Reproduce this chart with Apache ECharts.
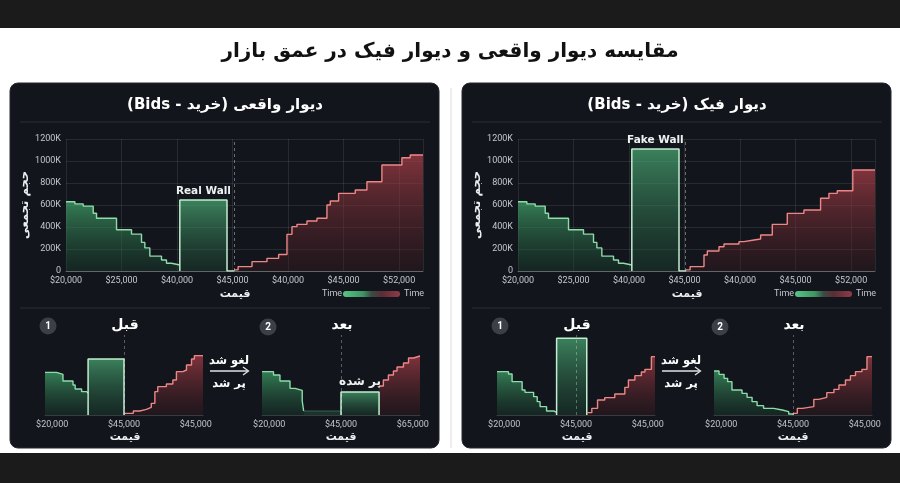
<!DOCTYPE html>
<html><head><meta charset="utf-8">
<script src="https://cdn.jsdelivr.net/npm/echarts@6/dist/echarts.min.js"></script>
<style>html,body{margin:0;padding:0;background:#fff}#c{width:900px;height:483px}</style>
</head><body><div id="c" dir="rtl"></div>
<script>
// ---------- data ----------
const mainTitle = 'مقایسه دیوار واقعی و دیوار فیک در عمق بازار';
const panelTitles = ['دیوار واقعی (خرید - Bids)', 'دیوار فیک (خرید - Bids)'];
const wallLabels = ['Real Wall', 'Fake Wall'];
const topXLabels = ['$20,000','$25,000','$40,000','$45,000','$40,000','$45,000','$52,000'];
const yAxisName = 'حجم تجمعی';
const xAxisName = 'قیمت';

const realBids = [[0,630],[0.16,610],[0.31,590],[0.49,525],[0.55,480],[0.91,375],[1.18,335],[1.36,260],[1.42,210],[1.51,135],[1.72,100],[1.81,70],[1.90,55],[2.05,55]];
const realWall = [[2.05,0],[2.05,645],[2.90,645],[2.90,0],[3.03,0]];
const realAsks = [[3.03,10],[3.10,40],[3.35,85],[3.62,115],[3.83,150],[3.98,333],[4.07,403],[4.16,424],[4.34,455],[4.52,479],[4.70,600],[4.76,636],[4.91,706],[5.21,736],[5.42,812],[5.69,964],[6.05,1030],[6.20,1055],[6.43,1055]];
const fakeBids = [[0,630],[0.16,610],[0.31,590],[0.49,525],[0.55,480],[0.91,375],[1.18,335],[1.36,260],[1.42,210],[1.51,135],[1.72,100],[1.81,70],[1.90,55],[2.05,55]];
const fakeWall = [[2.05,0],[2.05,1110],[2.90,1110],[2.90,0],[3.03,0]];
const fakeAsks = [[3.02,10],[3.10,40],[3.35,145],[3.41,182],[3.62,221],[3.71,245],[3.98,267],[4.07,282],[4.25,291],[4.37,327],[4.58,424],[4.85,524],[5.15,555],[5.45,661],[5.60,706],[5.75,730],[6.03,918],[6.43,918]];
const midPrice = [3.03, 3.02];

const miniLabelPos = [0.1, 1.1, 2.1];
const miniLabels = [
  ['$20,000','$45,000','$45,000'],
  ['$20,000','$45,000','$65,000'],
  ['$20,000','$45,000','$45,000'],
  ['$20,000','$45,000','$45,000']
];
const miniMid = [1.10, 1.10, 1.11, 1.10];
const realBeforeBids = [[0,640],[0.16,610],[0.25,510],[0.39,450],[0.42,390],[0.51,350],[0.58,325],[0.60,325]];
const realBeforeWall = [[0.60,0],[0.60,840],[1.10,840],[1.10,0]];
const realBeforeAsks = [[1.11,25],[1.23,60],[1.32,85],[1.41,115],[1.48,175],[1.53,350],[1.57,425],[1.69,465],[1.78,525],[1.83,650],[1.92,675],[1.97,750],[2.04,840],[2.08,890],[2.20,890]];
const realAfterBids = [[0,650],[0.16,600],[0.25,510],[0.39,400],[0.46,370],[0.56,210],[0.58,60]];
const realAfterRemnant = [[0.58,60],[1.10,60]];
const realAfterFilled = [[1.10,0],[1.10,345],[1.63,345],[1.63,0]];
const realAfterAsks = [[1.63,435],[1.69,525],[1.76,600],[1.83,660],[1.88,720],[1.97,780],[2.04,855],[2.11,885],[2.20,885]];
const fakeBeforeBids = [[0,650],[0.16,615],[0.21,500],[0.35,375],[0.39,340],[0.51,275],[0.56,200],[0.60,125],[0.69,60],[0.79,40],[0.83,40]];
const fakeBeforeWall = [[0.83,0],[0.83,1150],[1.25,1150],[1.25,0]];
const fakeBeforeAsks = [[1.25,35],[1.32,100],[1.40,225],[1.50,260],[1.64,315],[1.78,415],[1.83,525],[1.92,590],[2.01,645],[2.06,685],[2.15,875],[2.20,875]];
const fakeAfterBids = [[0,660],[0.07,610],[0.14,550],[0.19,500],[0.25,375],[0.39,325],[0.46,265],[0.53,200],[0.60,140],[0.69,100],[0.83,75],[0.95,50],[1.04,15],[1.10,0]];
const fakeAfterAsks = [[1.10,25],[1.16,100],[1.23,125],[1.39,235],[1.46,265],[1.57,335],[1.67,385],[1.74,450],[1.83,525],[1.90,590],[1.97,650],[2.06,685],[2.13,875],[2.20,875]];
const filledLabel = 'پر شده';
const beforeAfter = ['قبل', 'بعد'];
const arrowTexts = ['لغو شد', 'پر شد'];
const legendText = 'Time';

// ---------- chart ----------
const FONT = 'Roboto, "DejaVu Sans", sans-serif';
const PFONT = '"DejaVu Sans", sans-serif';
const chart = echarts.init(document.getElementById('c'), null, {width:900, height:483});
const LG = (a,b)=> new echarts.graphic.LinearGradient(0,0,0,1,[{offset:0,color:a},{offset:1,color:b}]);
const GREEN_LINE = '#8ddcaa', RED_LINE = '#ef8686', WALL_LINE = '#c2eed0';

const grids = [
  {left:66, top:139, width:357, height:132},
  {left:518, top:139, width:357, height:132},
  {left:45, top:335, width:158, height:80},
  {left:262, top:335, width:158, height:80},
  {left:497, top:335, width:158, height:80},
  {left:714, top:335, width:158, height:80}
];
const xAxes = [], yAxes = [];
[0,1].forEach(gi=>{
  xAxes.push({type:'value', gridIndex:gi, min:0, max:6.43, interval:1,
    axisLine:{show:true, lineStyle:{color:'rgba(255,255,255,0.28)'}}, axisTick:{show:false},
    axisLabel:{color:'#c3c7cd', fontSize:9, fontFamily:FONT, margin:5,
      formatter:v=> (Number.isInteger(v) && topXLabels[v]!==undefined) ? topXLabels[v] : ''},
    splitLine:{show:true, lineStyle:{color:'rgba(255,255,255,0.09)'}}});
  yAxes.push({type:'value', gridIndex:gi, min:0, max:1200, interval:200,
    name:yAxisName, nameLocation:'middle', nameRotate:90, nameGap:35,
    nameTextStyle:{color:'#eceef0', fontSize:11.5, fontWeight:'bold', fontFamily:PFONT},
    axisLine:{show:false}, axisTick:{show:false},
    axisLabel:{color:'#c3c7cd', fontSize:9, fontFamily:FONT, margin:5, formatter:v=> v===0?'0':v+'K'},
    splitLine:{lineStyle:{color:'rgba(255,255,255,0.09)'}}});
});
[2,3,4,5].forEach((gi,k)=>{
  xAxes.push({type:'value', gridIndex:gi, min:0, max:2.2,
    axisLine:{show:true, lineStyle:{color:'rgba(255,255,255,0.16)'}}, axisTick:{show:false}, splitLine:{show:false},
    axisLabel:{customValues:miniLabelPos, color:'#bfc3c9', fontSize:9, fontFamily:FONT, margin:5,
      formatter:v=> miniLabels[k][Math.round(v-0.1)]}});
  yAxes.push({type:'value', gridIndex:gi, min:0, max:1200, show:false});
});

function mk(gi, data, kind, extra){
  const s = {type:'line', xAxisIndex:gi, yAxisIndex:gi, data, symbol:'none', animation:false, silent:true};
  if (kind==='bid') { s.step='end'; s.lineStyle={color:GREEN_LINE,width:1.4}; s.areaStyle={color:LG('rgba(70,178,114,0.95)','rgba(26,66,47,0.5)')}; }
  if (kind==='ask') { s.step='end'; s.lineStyle={color:RED_LINE,width:1.4}; s.areaStyle={color:LG('rgba(184,66,76,0.95)','rgba(60,24,30,0.5)')}; }
  if (kind==='wall') { s.lineStyle={color:WALL_LINE,width:1.5}; s.areaStyle={color:LG('rgba(80,182,124,0.95)','rgba(28,68,49,0.55)')}; }
  if (kind==='rem') { s.lineStyle={color:'rgba(90,160,115,0.5)',width:1}; s.areaStyle={color:'rgba(40,95,65,0.55)'}; }
  return Object.assign(s, extra||{});
}
function midLine(x, top){
  return {markLine:{silent:true, symbol:['none','none'], label:{show:false},
    lineStyle:{type:[3,3], color: top?'rgba(255,255,255,0.38)':'rgba(255,255,255,0.3)', width:1}, data:[{xAxis:x}]}};
}
function wallLabel(x, y, text, dist){
  return {markPoint:{symbol:'circle', symbolSize:1, itemStyle:{color:'rgba(0,0,0,0)'},
    label:{show:true, position:'top', distance:dist, formatter:text, color:'#eef0f2', fontWeight:'bold', fontSize:10.5, fontFamily:PFONT},
    data:[{coord:[x,y]}]}};
}
const series = [
  mk(0, realBids, 'bid'),
  mk(0, realWall, 'wall', wallLabel(2.475, realWall[1][1], wallLabels[0], 3)),
  mk(0, realAsks, 'ask', midLine(midPrice[0], true)),
  mk(1, fakeBids, 'bid'),
  mk(1, fakeWall, 'wall', wallLabel(2.475, fakeWall[1][1], wallLabels[1], 3)),
  mk(1, fakeAsks, 'ask', midLine(midPrice[1], true)),
  mk(2, realBeforeBids, 'bid'),
  mk(2, realBeforeWall, 'wall'),
  mk(2, realBeforeAsks, 'ask', midLine(miniMid[0])),
  mk(3, realAfterBids, 'bid'),
  mk(3, realAfterRemnant, 'rem'),
  mk(3, realAfterFilled, 'wall', wallLabel(1.365, realAfterFilled[1][1], filledLabel, 4)),
  mk(3, realAfterAsks, 'ask', midLine(miniMid[1])),
  mk(4, fakeBeforeBids, 'bid'),
  mk(4, fakeBeforeWall, 'wall'),
  mk(4, fakeBeforeAsks, 'ask', midLine(miniMid[2])),
  mk(5, fakeAfterBids, 'bid'),
  mk(5, fakeAfterAsks, 'ask', midLine(miniMid[3]))
];
series[11].markPoint.label.fontSize = 12;

// ---------- decoration ----------
const g = [];
g.push({type:'rect', z:-10, shape:{x:0,y:0,width:900,height:28}, style:{fill:'#1b1b1c'}});
g.push({type:'rect', z:-10, shape:{x:0,y:453,width:900,height:30}, style:{fill:'#1b1b1c'}});
g.push({type:'line', z:-10, shape:{x1:451,y1:88,x2:451,y2:448}, style:{stroke:'#dcdcdc', lineWidth:1}});
function txt(x,y,text,font,fill,align){
  return {type:'text', z:50, x, y, style:{text, font, fill:fill||'#fff', textAlign:align||'center', textVerticalAlign:'middle'}};
}
[0,452].forEach((dx,p)=>{
  g.push({type:'rect', z:-9, shape:{x:10+dx,y:83,width:429,height:365,r:8}, style:{fill:'#12161c', stroke:'#22272f', lineWidth:1}});
  g.push({type:'line', z:-8, shape:{x1:20+dx,y1:122,x2:430+dx,y2:122}, style:{stroke:'rgba(255,255,255,0.1)', lineWidth:1}});
  g.push({type:'line', z:-8, shape:{x1:20+dx,y1:308,x2:430+dx,y2:308}, style:{stroke:'rgba(255,255,255,0.1)', lineWidth:1}});
  g.push(txt(225+dx, 105, panelTitles[p], 'bold 15px '+PFONT));
  g.push(txt(235+dx, 294, xAxisName, 'bold 11px '+PFONT, '#eceef0'));
  g.push(txt(332+dx, 294, legendText, '9px '+FONT, '#c3c7cd'));
  g.push(txt(414+dx, 294, legendText, '9px '+FONT, '#c3c7cd'));
  g.push({type:'rect', z:50, shape:{x:343+dx,y:291,width:57,height:6,r:3}, style:{fill:new echarts.graphic.LinearGradient(0,0,1,0,[
    {offset:0,color:'#57c585'},{offset:0.35,color:'#3f9463'},{offset:0.5,color:'#3c4a45'},{offset:0.68,color:'#5a2c35'},{offset:1,color:'#8e3c47'}])}});
  // badges & labels
  g.push({type:'circle', z:50, shape:{cx:48+dx, cy:326, r:8.5}, style:{fill:'#3a3f48'}});
  g.push(txt(48+dx, 326.5, '1', 'bold 10px '+FONT));
  g.push({type:'circle', z:50, shape:{cx:268+dx, cy:327, r:8.5}, style:{fill:'#3a3f48'}});
  g.push(txt(268+dx, 327.5, '2', 'bold 10px '+FONT));
  g.push(txt(125+dx, 325, beforeAfter[0], 'bold 14px '+PFONT));
  g.push(txt(342+dx, 325, beforeAfter[1], 'bold 14px '+PFONT));
  g.push(txt(125+dx, 437, xAxisName, 'bold 11px '+PFONT, '#eceef0'));
  g.push(txt(341+dx, 437, xAxisName, 'bold 11px '+PFONT, '#eceef0'));
  // arrow
  g.push(txt(229+dx, 361, arrowTexts[0], 'bold 11.5px '+PFONT));
  g.push({type:'line', z:50, shape:{x1:210+dx,y1:371,x2:248+dx,y2:371}, style:{stroke:'#e2e2e2', lineWidth:1.3}});
  g.push({type:'polyline', z:50, shape:{points:[[243+dx,367],[248.5+dx,371],[243+dx,375]]}, style:{stroke:'#e2e2e2', lineWidth:1.3, fill:null}});
  g.push(txt(229+dx, 384, arrowTexts[1], 'bold 11.5px '+PFONT));
});

chart.setOption({
  backgroundColor:'#ffffff',
  animation:false,
  title:{text:mainTitle, left:'center', top:37, textStyle:{color:'#111', fontSize:20, fontWeight:'bold', fontFamily:PFONT}},
  grid:grids, xAxis:xAxes, yAxis:yAxes, series, graphic:g
});
</script></body></html>
